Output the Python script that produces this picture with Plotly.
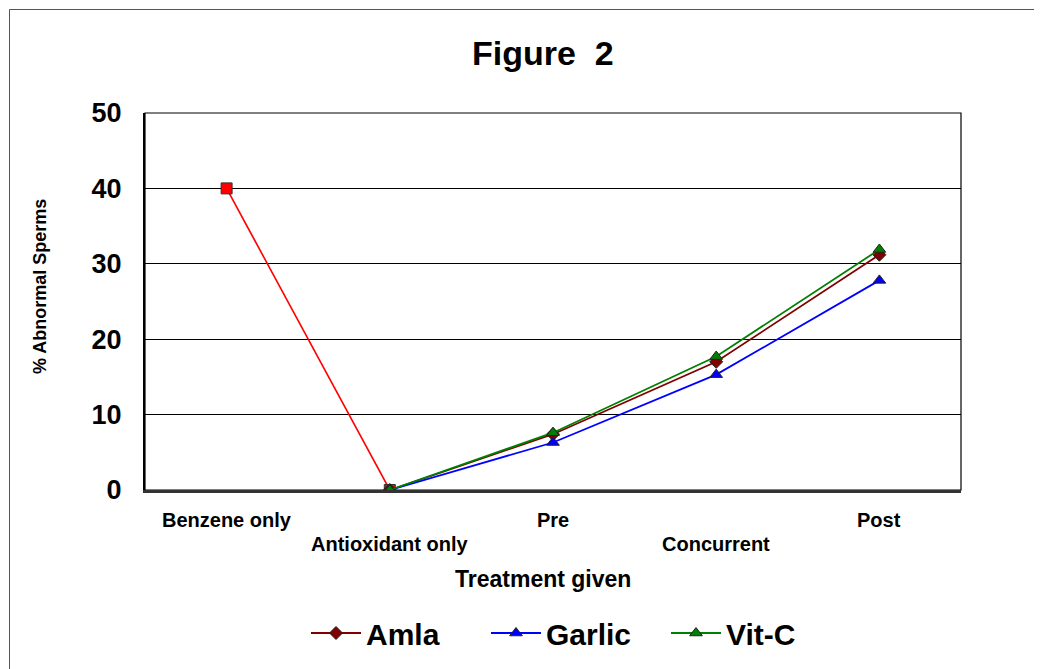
import plotly.graph_objects as go

categories = ["Benzene only", "Antioxidant only", "Pre", "Concurrent", "Post"]
benzene = [40, 0, None, None, None]
amla = [None, 0, 7.4, 17.0, 31.2]
garlic = [None, 0, 6.3, 15.3, 27.8]
vitc = [None, 0, 7.6, 17.7, 31.9]
yticks = [0, 10, 20, 30, 40, 50]

W, H = 1042, 669
OFF = 8  # page body margin
L, T = 145 - OFF, 113 - OFF
PW, PH = 816, 377
R = W - L - PW
B = H - T - PH

def px(x):
    return (x - OFF - L) / PW

def py(y):
    return (T + PH - (y - OFF)) / PH

FONT = "Arial, Liberation Sans, sans-serif"

fig = go.Figure()
fig.add_trace(go.Scatter(x=categories, y=benzene, mode="lines+markers", name="Benzene",
                         showlegend=False, line=dict(color="#FF0000", width=1.6),
                         marker=dict(symbol="square", size=11, color="#FF0000",
                                     line=dict(color="#333333", width=1))))
fig.add_trace(go.Scatter(x=categories, y=amla, mode="lines+markers", name="Amla",
                         line=dict(color="#800000", width=1.8),
                         marker=dict(symbol="diamond", size=10, color="#800000",
                                     line=dict(color="#222222", width=1))))
fig.add_trace(go.Scatter(x=categories, y=garlic, mode="lines+markers", name="Garlic",
                         line=dict(color="#0000FF", width=1.8),
                         marker=dict(symbol="triangle-up", size=11, color="#0000FF",
                                     line=dict(color="#222222", width=1))))
fig.add_trace(go.Scatter(x=categories, y=vitc, mode="lines+markers", name="Vit-C",
                         line=dict(color="#008000", width=1.8),
                         marker=dict(symbol="triangle-up", size=11, color="#008000",
                                     line=dict(color="#222222", width=1))))

annotations = []
for i, c in enumerate(categories):
    annotations.append(dict(x=c, xref="x", y=0, yref="paper", yanchor="middle",
                            yshift=-30 if i % 2 == 0 else -54, showarrow=False,
                            text="<b>%s</b>" % c,
                            font=dict(family=FONT, size=20, color="black")))
annotations.append(dict(x=px(543), y=py(53), xref="paper", yref="paper", showarrow=False,
                        text="<b>Figure  2</b>", font=dict(family=FONT, size=34, color="black"),
                        xanchor="center", yanchor="middle"))
annotations.append(dict(x=px(543), y=py(579), xref="paper", yref="paper", showarrow=False,
                        text="<b>Treatment given</b>", font=dict(family=FONT, size=23, color="black"),
                        xanchor="center", yanchor="middle"))
annotations.append(dict(x=px(40), y=py(287), xref="paper", yref="paper", showarrow=False,
                        text="<b>% Abnormal Sperms</b>", textangle=-90,
                        font=dict(family=FONT, size=18, color="black"),
                        xanchor="center", yanchor="middle"))

shapes = [
    dict(type="rect", xref="paper", yref="paper", x0=px(9.5), y0=py(H + 50), x1=px(W + 50), y1=py(9.5),
         line=dict(color="#555555", width=1), layer="below"),
    dict(type="rect", xref="paper", yref="paper", x0=0, y0=0, x1=1, y1=1,
         line=dict(color="black", width=1.2), layer="below"),
]

fig.update_layout(
    width=W, height=H,
    margin=dict(l=L, r=R, t=T, b=B, pad=0),
    paper_bgcolor="white", plot_bgcolor="white",
    showlegend=True,
    legend=dict(orientation="h", x=px(576), y=py(633), xanchor="center", yanchor="middle",
                font=dict(family=FONT, size=30, color="black", weight="bold"),
                bgcolor="rgba(0,0,0,0)", itemwidth=50, entrywidth=115),
    xaxis=dict(type="category", range=[-0.5, 4.5], showticklabels=False, showgrid=False,
               showline=True, linecolor="#333333", linewidth=3, ticks="", zeroline=False),
    yaxis=dict(range=[0, 50], tickvals=yticks, showgrid=True, gridcolor="black", gridwidth=1,
               showline=True, linecolor="black", linewidth=2, zeroline=False, ticks="",
               ticklabelstandoff=16,
               tickfont=dict(family=FONT, size=27, color="black", weight="bold")),
    annotations=annotations,
    shapes=shapes,
)

fig.write_html("out.html")
